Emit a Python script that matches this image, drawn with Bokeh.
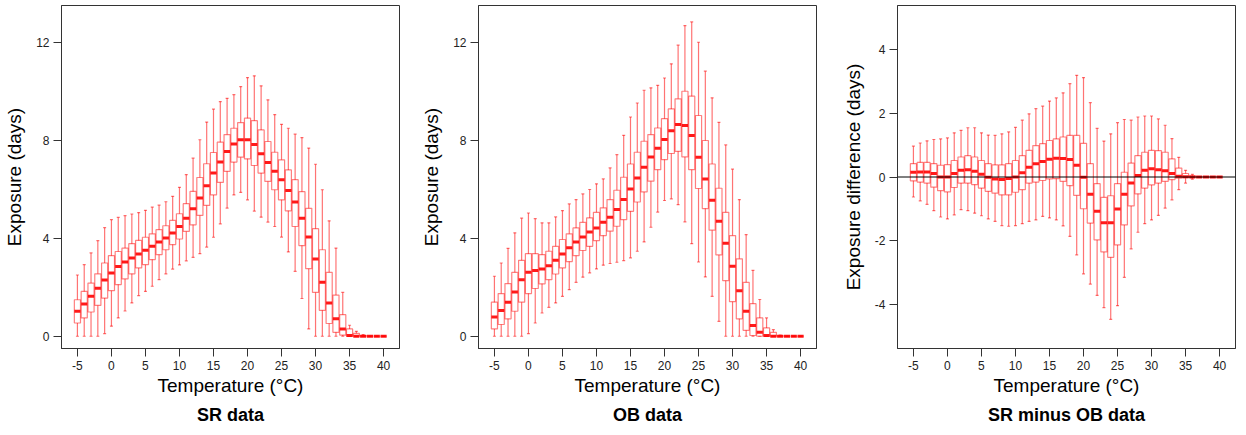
from bokeh.plotting import figure
from bokeh.layouts import row
from bokeh.models import Range1d, FixedTicker, Span, Title
from bokeh.embed import file_html
from bokeh.resources import INLINE

temps = list(range(-5, 41))

# SR data (five-number summaries per temperature)
sr_hi = [2.50, 2.92, 3.40, 3.90, 4.43, 4.76, 4.85, 4.92, 4.99, 5.05, 5.14, 5.27, 5.35, 5.49, 5.71, 6.08,
         6.60, 7.27, 8.02, 8.74, 9.27, 9.58, 9.71, 9.86, 10.19, 10.56, 10.63, 10.22, 9.65, 9.05, 8.65,
         8.49, 8.25, 8.11, 7.68, 7.02, 5.98, 4.71, 3.60, 1.79, 0.45, 0.20, 0.07, 0, 0, 0]
sr_q3 = [1.49, 1.83, 2.17, 2.55, 2.99, 3.29, 3.46, 3.60, 3.78, 3.91, 4.04, 4.18, 4.35, 4.51, 4.73, 5.00,
         5.41, 5.91, 6.48, 7.04, 7.50, 7.92, 8.23, 8.49, 8.72, 8.90, 8.80, 8.42, 7.95, 7.51, 7.20,
         6.79, 6.39, 5.90, 5.22, 4.39, 3.53, 2.61, 1.68, 0.88, 0.30, 0.12, 0.03, 0, 0, 0]
sr_med = [1.02, 1.32, 1.63, 1.96, 2.30, 2.58, 2.85, 3.03, 3.19, 3.36, 3.51, 3.67, 3.85, 4.01, 4.21, 4.48,
          4.82, 5.20, 5.64, 6.14, 6.66, 7.11, 7.54, 7.85, 8.02, 8.02, 7.83, 7.45, 7.09, 6.73, 6.39,
          5.95, 5.48, 4.82, 4.05, 3.15, 2.20, 1.36, 0.71, 0.30, 0.03, 0, 0, 0, 0, 0]
sr_q1 = [0.54, 0.75, 0.99, 1.26, 1.56, 1.86, 2.11, 2.34, 2.55, 2.79, 2.92, 3.13, 3.33, 3.53, 3.74, 3.97,
         4.28, 4.55, 4.93, 5.34, 5.77, 6.28, 6.73, 7.11, 7.31, 7.24, 6.97, 6.66, 6.32, 5.98, 5.57,
         5.12, 4.48, 3.70, 2.76, 1.79, 1.06, 0.52, 0.16, 0.05, 0, 0, 0, 0, 0, 0]
sr_lo = [0, 0, 0, 0, 0.11, 0.41, 0.75, 1.03, 1.36, 1.66, 1.83, 2.04, 2.31, 2.55, 2.74, 2.91,
         3.08, 3.22, 3.37, 3.64, 4.04, 4.59, 5.23, 5.77, 5.87, 5.57, 5.11, 4.86, 4.66, 4.48, 4.05,
         3.44, 2.65, 1.54, 0.30, 0, 0, 0, 0, 0, 0, 0, 0, 0, 0, 0]

# OB data
ob_hi = [2.45, 2.99, 3.59, 4.22, 4.82, 5.03, 4.80, 4.63, 4.63, 4.87, 5.13, 5.40, 5.58, 5.81, 5.99, 6.22,
         6.42, 6.87, 7.41, 8.20, 8.95, 9.52, 10.04, 10.14, 10.24, 10.54, 11.12, 11.88, 12.68, 12.83, 12.00,
         10.82, 9.73, 8.73, 7.81, 6.82, 5.58, 4.15, 2.69, 1.50, 0.75, 0.27, 0.05, 0, 0, 0]
ob_q3 = [1.39, 1.74, 2.15, 2.61, 3.10, 3.37, 3.37, 3.33, 3.47, 3.67, 3.95, 4.18, 4.42, 4.65, 4.83, 5.06,
         5.24, 5.58, 5.96, 6.49, 7.03, 7.51, 7.96, 8.23, 8.50, 8.88, 9.28, 9.69, 10.00, 9.80, 9.01,
         7.99, 7.03, 6.04, 5.06, 4.11, 3.16, 2.20, 1.33, 0.75, 0.34, 0.16, 0.02, 0, 0, 0]
ob_med = [0.79, 1.05, 1.39, 1.81, 2.31, 2.61, 2.68, 2.75, 2.88, 3.10, 3.36, 3.61, 3.85, 4.05, 4.26, 4.42,
          4.65, 4.86, 5.17, 5.58, 6.01, 6.46, 6.90, 7.32, 7.67, 8.03, 8.39, 8.64, 8.60, 8.19, 7.31,
          6.42, 5.55, 4.69, 3.80, 2.86, 1.86, 1.02, 0.44, 0.16, 0.03, 0, 0, 0, 0, 0]
ob_q1 = [0.30, 0.48, 0.71, 1.02, 1.39, 1.74, 1.95, 2.14, 2.31, 2.54, 2.79, 3.05, 3.29, 3.50, 3.67, 3.90,
         4.11, 4.29, 4.49, 4.76, 5.10, 5.48, 5.89, 6.33, 6.80, 7.21, 7.46, 7.55, 7.32, 6.80, 6.03,
         5.21, 4.33, 3.32, 2.27, 1.41, 0.71, 0.24, 0.03, 0, 0, 0, 0, 0, 0, 0]
ob_lo = [0, 0, 0, 0, 0, 0.11, 0.54, 0.95, 1.18, 1.36, 1.63, 1.90, 2.20, 2.41, 2.59, 2.75,
         2.90, 2.97, 3.02, 3.09, 3.20, 3.47, 3.85, 4.45, 5.07, 5.54, 5.61, 5.37, 4.67, 3.78, 3.03,
         2.42, 1.63, 0.61, 0, 0, 0, 0, 0, 0, 0, 0, 0, 0, 0, 0]

# SR minus OB data
df_hi = [0.97, 1.07, 1.14, 1.18, 1.20, 1.23, 1.39, 1.47, 1.55, 1.55, 1.39, 1.32, 1.31, 1.36, 1.42, 1.56,
         1.79, 1.99, 2.15, 2.23, 2.39, 2.49, 2.65, 2.94, 3.20, 3.13, 2.34, 1.53, 1.13, 1.36, 1.71,
         1.81, 1.79, 1.89, 1.92, 1.92, 1.83, 1.63, 1.21, 0.62, 0.21, 0.08, 0, 0, 0, 0]
df_q3 = [0.42, 0.46, 0.46, 0.42, 0.37, 0.39, 0.52, 0.63, 0.67, 0.63, 0.52, 0.42, 0.38, 0.38, 0.42, 0.52,
         0.67, 0.84, 0.99, 1.05, 1.15, 1.20, 1.26, 1.31, 1.31, 1.06, 0.42, -0.21, -0.64, -0.59, -0.21,
         0.15, 0.44, 0.67, 0.78, 0.84, 0.83, 0.78, 0.57, 0.28, 0.11, 0.04, 0, 0, 0, 0]
df_med = [0.15, 0.16, 0.16, 0.11, 0.0, 0.0, 0.11, 0.21, 0.23, 0.18, 0.09, -0.01, -0.06, -0.08, -0.05, 0.0,
          0.13, 0.31, 0.42, 0.49, 0.56, 0.59, 0.58, 0.55, 0.37, -0.01, -0.54, -1.08, -1.44, -1.44, -1.01,
          -0.54, -0.19, 0.05, 0.21, 0.26, 0.23, 0.20, 0.11, 0.02, 0.01, 0, 0, 0, 0, 0]
df_q1 = [-0.12, -0.16, -0.19, -0.32, -0.43, -0.47, -0.33, -0.19, -0.19, -0.24, -0.35, -0.45, -0.51, -0.56, -0.56, -0.48,
         -0.40, -0.19, -0.16, -0.11, -0.06, -0.05, -0.14, -0.27, -0.58, -1.00, -1.45, -1.98, -2.36, -2.53, -2.14,
         -1.51, -0.91, -0.53, -0.35, -0.25, -0.19, -0.14, -0.08, -0.04, -0.02, -0.01, 0, 0, 0, 0]
df_lo = [-0.63, -0.75, -0.86, -1.06, -1.26, -1.32, -1.19, -1.03, -1.06, -1.14, -1.22, -1.32, -1.40, -1.53, -1.55, -1.53,
         -1.47, -1.40, -1.35, -1.24, -1.29, -1.35, -1.54, -1.87, -2.45, -3.05, -3.37, -3.73, -4.11, -4.48, -4.05,
         -3.16, -2.26, -1.74, -1.47, -1.35, -1.21, -0.98, -0.72, -0.40, -0.19, -0.07, 0, 0, 0, 0]

x_ticks = [-5, 0, 5, 10, 15, 20, 25, 30, 35, 40]
y_ticks_abs = [0, 4, 8, 12]
y_ticks_diff = [-4, -2, 0, 2, 4]

FONT = "Liberation Sans"
RED = "#ff0000"


def panel(lo, q1, med, q3, hi, title, ylabel, yrange, yticks, width, left, right, zero_line=False):
    p = figure(width=width, height=435, output_backend="svg", toolbar_location=None,
               x_range=Range1d(-7.34, 42.34), y_range=Range1d(*yrange),
               min_border_left=left, min_border_right=right, min_border_top=5, min_border_bottom=87)
    p.grid.visible = False
    p.outline_line_color = "#333333"
    p.outline_line_width = 1
    p.background_fill_color = "white"
    p.border_fill_color = "white"

    bw = 0.9
    cap = 0.22
    xs = temps
    p.quad(left=[x - bw / 2 for x in xs], right=[x + bw / 2 for x in xs], bottom=q1, top=q3,
           fill_alpha=0, line_color=RED, line_alpha=0.5, line_width=1.2)
    p.segment(x0=xs, y0=q3, x1=xs, y1=hi, line_color=RED, line_alpha=0.55, line_width=1.2)
    p.segment(x0=xs, y0=q1, x1=xs, y1=lo, line_color=RED, line_alpha=0.55, line_width=1.2)
    p.segment(x0=[x - cap for x in xs], y0=hi, x1=[x + cap for x in xs], y1=hi,
              line_color=RED, line_alpha=0.55, line_width=1.2)
    p.segment(x0=[x - cap for x in xs], y0=lo, x1=[x + cap for x in xs], y1=lo,
              line_color=RED, line_alpha=0.55, line_width=1.2)
    p.segment(x0=[x - bw / 2 for x in xs], y0=med, x1=[x + bw / 2 for x in xs], y1=med,
              line_color=RED, line_alpha=0.9, line_width=3)

    if zero_line:
        p.add_layout(Span(location=0, dimension="width", line_color="black", line_width=1))

    p.xaxis.ticker = FixedTicker(ticks=x_ticks)
    p.yaxis.ticker = FixedTicker(ticks=yticks)
    p.xaxis.major_label_overrides = {t: str(t) for t in x_ticks}
    p.yaxis.major_label_overrides = {t: str(t) for t in yticks}
    for ax in (p.xaxis[0], p.yaxis[0]):
        ax.axis_line_color = "#333333"
        ax.major_tick_line_color = "#333333"
        ax.minor_tick_line_color = None
        ax.major_tick_out = 8
        ax.major_tick_in = 0
        ax.major_label_text_font = FONT
        ax.major_label_text_font_size = "12px"
        ax.major_label_text_color = "#222222"
        ax.axis_label_text_font = FONT
        ax.axis_label_text_font_size = "19px"
        ax.axis_label_text_font_style = "normal"
        ax.axis_label_text_color = "black"
    p.xaxis.axis_label = "Temperature (\u00b0C)"
    p.yaxis.axis_label = ylabel
    p.xaxis.major_label_standoff = 4
    p.xaxis.axis_label_standoff = 2
    p.yaxis.major_label_standoff = 4
    p.yaxis.axis_label_standoff = 8
    p.yaxis.major_label_orientation = "horizontal"

    t = Title(text=title, align="center", text_font=FONT, text_font_size="18px",
              text_font_style="bold", text_color="black", standoff=9)
    p.add_layout(t, "below")
    return p


p1 = panel(sr_lo, sr_q1, sr_med, sr_q3, sr_hi, "SR data", "Exposure (days)",
           (-0.5, 13.5), y_ticks_abs, 418, 61, 19)
p2 = panel(ob_lo, ob_q1, ob_med, ob_q3, ob_hi, "OB data", "Exposure (days)",
           (-0.5, 13.5), y_ticks_abs, 418, 60, 20)
p3 = panel(df_lo, df_q1, df_med, df_q3, df_hi, "SR minus OB data", "Exposure difference (days)",
           (-5.4, 5.4), y_ticks_diff, 410, 61, 11, zero_line=True)

layout = row(p1, p2, p3)
open("out.html", "w").write(file_html(layout, INLINE))
